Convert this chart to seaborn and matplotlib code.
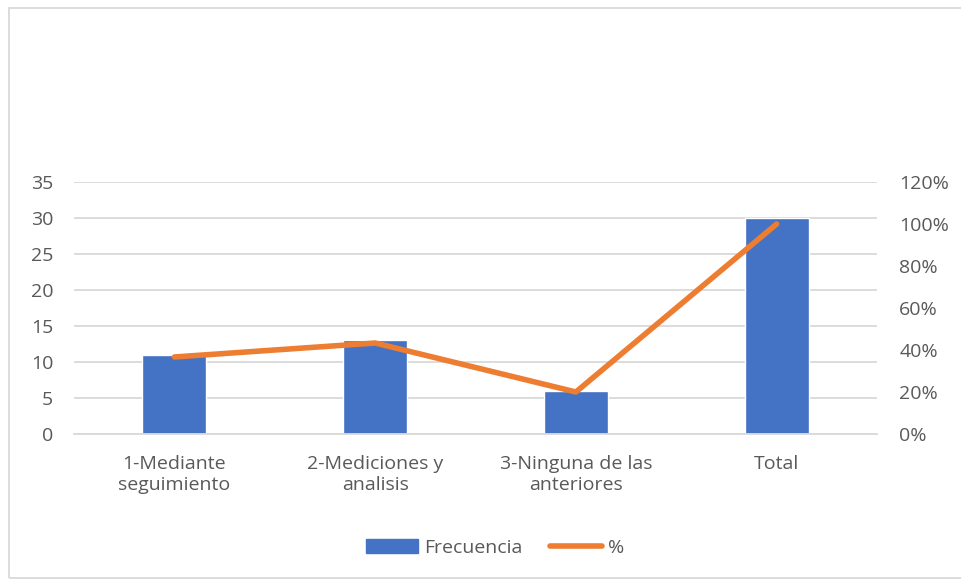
import matplotlib
matplotlib.use("Agg")
import matplotlib.pyplot as plt
import seaborn as sns
from matplotlib.patches import Rectangle
from matplotlib.lines import Line2D
from matplotlib.ticker import FuncFormatter

categories = ["1-Mediante\nseguimiento", "2-Mediciones y\nanalisis", "3-Ninguna de las\nanteriores", "Total"]
frecuencia = [11, 13, 6, 30]
porcentaje = [0.3667, 0.4333, 0.20, 1.00]
left_ticks = [0, 5, 10, 15, 20, 25, 30, 35]
right_ticks = [0, 0.2, 0.4, 0.6, 0.8, 1.0, 1.2]

BLUE = "#4472C4"
ORANGE = "#ED7D31"
GRID = "#D9D9D9"
TEXT = "#595959"
FS = 14

sns.set_theme(style="white")
plt.rcParams["font.family"] = ["Open Sans", "DejaVu Sans"]

fig = plt.figure(figsize=(9.61, 5.81), dpi=100)
ax = fig.add_axes([74 / 961, 1 - 434 / 581, (877 - 74) / 961, (434 - 182) / 581])

sns.barplot(x=categories, y=frecuencia, color=BLUE, width=0.32, saturation=1, ax=ax)
ax.set_ylim(0, 35)
ax.set_yticks(left_ticks)
ax.set_xlim(-0.5, 3.5)
ax.yaxis.grid(True, color=GRID, linewidth=1.3)
ax.set_axisbelow(True)
for s in ["top", "right", "left"]:
    ax.spines[s].set_visible(False)
ax.spines["bottom"].set_color(GRID)
ax.spines["bottom"].set_linewidth(1.3)
ax.tick_params(axis="x", length=0, labelsize=FS, colors=TEXT, pad=15)
ax.tick_params(axis="y", length=0, labelsize=FS, colors=TEXT, pad=15)
ax.set_xlabel("")
ax.set_ylabel("")

ax2 = ax.twinx()
sns.lineplot(x=categories, y=porcentaje, color=ORANGE, linewidth=4.0, sort=False,
             solid_capstyle="round", ax=ax2)
ax2.set_ylim(0, 1.2)
ax2.set_yticks(right_ticks)
ax2.yaxis.set_major_formatter(FuncFormatter(lambda v, p: f"{v * 100:.0f}%"))
for s in ["top", "right", "left", "bottom"]:
    ax2.spines[s].set_visible(False)
ax2.tick_params(axis="y", length=0, labelsize=FS, colors=TEXT, pad=16)
ax2.set_ylabel("")
ax2.set_xlim(-0.5, 3.5)

# outer chart border
fig.patches.append(Rectangle((9 / 961, 3 / 581), 960 / 961, 570 / 581, transform=fig.transFigure,
                             fill=False, edgecolor=GRID, linewidth=1.3))

handles = [Rectangle((0, 0), 1, 1, color=BLUE), Line2D([0], [0], color=ORANGE, linewidth=4.0, solid_capstyle="round")]
fig.legend(handles, ["Frecuencia", "%"], loc="center", bbox_to_anchor=(495 / 961, 1 - 548 / 581),
           ncol=2, frameon=False, fontsize=FS, labelcolor=TEXT, handlelength=2.7,
           handletextpad=0.3, columnspacing=1.4, handleheight=0.75)

fig.savefig("out.png", dpi=100)
